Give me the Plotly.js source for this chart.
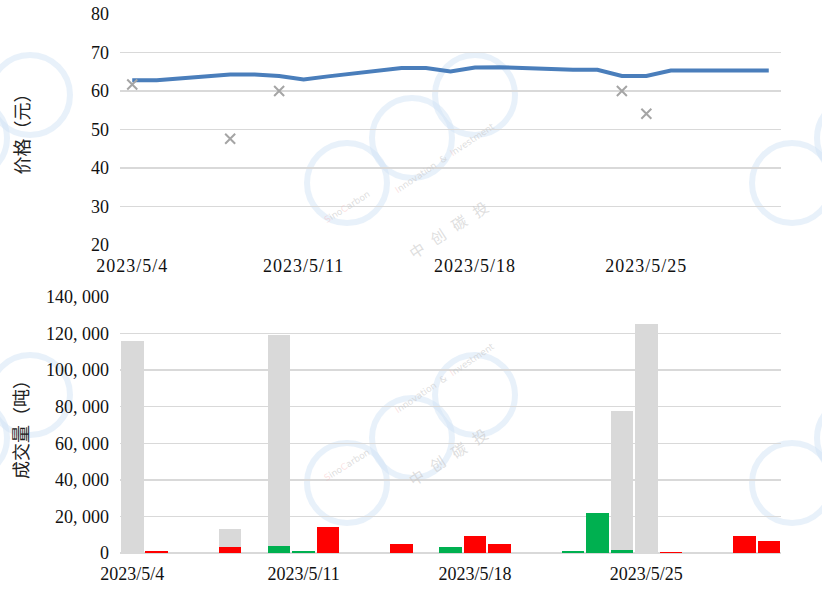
<!DOCTYPE html>
<html>
<head>
<meta charset="utf-8">
<script src="https://cdn.plot.ly/plotly-3.0.1.min.js"></script>
<style>
  html, body { margin: 0; padding: 0; background: #fff; }
  #chart { width: 822px; height: 595px; }
  .xtick text { letter-spacing: 1px; }
</style>
</head>
<body>
<div id="chart"></div>
<script>
// ---------- data ----------
const dates = ['2023-05-04','2023-05-05','2023-05-08','2023-05-09','2023-05-10','2023-05-11','2023-05-12',
               '2023-05-15','2023-05-16','2023-05-17','2023-05-18','2023-05-19','2023-05-22','2023-05-23',
               '2023-05-24','2023-05-25','2023-05-26','2023-05-29','2023-05-30'];
// closing price line (元)
const closePrice = [62.8, 62.8, 64.3, 64.3, 63.9, 63.0, 63.8, 66.0, 66.0, 65.1, 66.1, 66.2, 65.5, 65.5,
                    63.9, 63.9, 65.3, 65.2, 65.3];
// block-trade prices (元)
const blockDates = ['2023-05-04','2023-05-08','2023-05-10','2023-05-24','2023-05-25'];
const blockPrice = [61.7, 47.6, 60.0, 60.0, 54.1];
// volumes (吨)
const volRed   = [0, 1300, 3400, 0, 0, 0, 14400, 5100, 0, 0, 9500, 5100, 0, 0, 0, 0, 700, 9500, 6300];
const volGreen = [0, 0, 0, 0, 4000, 900, 0, 0, 0, 3500, 0, 0, 1300, 22000, 1800, 0, 0, 0, 0];
const volGrey  = [116100, 0, 9900, 0, 115000, 0, 0, 0, 0, 0, 0, 0, 0, 0, 76000, 125400, 0, 0, 0];
// tick labels
const priceTicks = [20, 30, 40, 50, 60, 70, 80];
const volTickVals = [0, 20000, 40000, 60000, 80000, 100000, 120000, 140000];
const volTickText = ['0', '20, 000', '40, 000', '60, 000', '80, 000', '100, 000', '120, 000', '140, 000'];

// ---------- layout helpers ----------
const W = 822, H = 595, ML = 120, MR = 41, MT = 14, MB = 42;
const PW = W - ML - MR, PH = H - MT - MB;
const px = x => (x - ML) / PW;
const py = y => (H - MB - y) / PH;

const tickFont = { family: '"Liberation Serif", "DejaVu Serif", serif', size: 18, color: '#111' };
const titleFont = { family: '"Noto Sans CJK SC", sans-serif', size: 18, color: '#222' };
const gridColor = '#d9d9d9';
const dayMs = 86400000;
const xRange = ['2023-05-03 12:00', '2023-05-30 12:00'];

const traces = [
  { type: 'scatter', mode: 'lines', x: dates, y: closePrice, xaxis: 'x', yaxis: 'y',
    line: { color: '#4a7ebb', width: 4 }, name: '收盘价', showlegend: false },
  { type: 'scatter', mode: 'markers', x: blockDates, y: blockPrice, xaxis: 'x', yaxis: 'y',
    marker: { symbol: 'x-thin', size: 10, color: '#a5a5a5', line: { color: '#a5a5a5', width: 2 } },
    name: '大宗成交价', showlegend: false },
  { type: 'bar', x: dates, y: volRed, xaxis: 'x2', yaxis: 'y2', marker: { color: '#ff0000' }, name: '上涨', showlegend: false },
  { type: 'bar', x: dates, y: volGreen, xaxis: 'x2', yaxis: 'y2', marker: { color: '#00b050' }, name: '下跌', showlegend: false },
  { type: 'bar', x: dates, y: volGrey, xaxis: 'x2', yaxis: 'y2', marker: { color: '#d9d9d9' }, name: '大宗', showlegend: false }
];

// ---------- watermark ----------
const shapes = [];
const annotations = [];
const wmBlue = 'rgba(210,228,245,0.5)';
const groupOffsets = [-445, 0, 445];
const rowOffsets = [0, 300];
rowOffsets.forEach(dy => {
  groupOffsets.forEach(dx => {
    [[347, 183], [412, 138], [475, 95]].forEach(c => {
      const cx = c[0] + dx, cy = c[1] + dy, r = 40;
      shapes.push({ type: 'circle', xref: 'paper', yref: 'paper', layer: 'below',
        x0: px(cx - r), x1: px(cx + r), y0: py(cy + r), y1: py(cy - r),
        line: { color: wmBlue, width: 6 } });
    });
  });
  annotations.push({ xref: 'paper', yref: 'paper', x: px(448), y: py(193 + dy), showarrow: false,
    text: '中   创   碳   投', textangle: -33,
    font: { family: '"Noto Sans CJK SC", sans-serif', size: 15, color: 'rgba(200,200,200,0.6)' } });
  annotations.push({ xref: 'paper', yref: 'paper', x: px(347), y: py(186 + dy), showarrow: false,
    text: '<span style="color:rgba(245,170,170,0.6)">S</span>ino<span style="color:rgba(245,170,170,0.6)">C</span>arbon',
    textangle: -32,
    font: { family: '"DejaVu Sans", sans-serif', size: 9, color: 'rgba(200,200,200,0.6)' } });
  annotations.push({ xref: 'paper', yref: 'paper', x: px(445), y: py(118 + dy), showarrow: false,
    text: '<span style="color:rgba(245,170,170,0.6)">I</span>nnovation  &  <span style="color:rgba(245,170,170,0.6)">I</span>nvestment',
    textangle: -34,
    font: { family: '"DejaVu Sans", sans-serif', size: 9, color: 'rgba(200,200,200,0.6)' } });
});

const layout = {
  width: W, height: H,
  margin: { l: ML, r: MR, t: MT, b: MB },
  paper_bgcolor: '#fff', plot_bgcolor: 'rgba(0,0,0,0)',
  showlegend: false,
  barmode: 'stack', bargap: 0.08,
  xaxis: { type: 'date', range: xRange, domain: [0, 1], anchor: 'y',
    tick0: '2023-05-04', dtick: 7 * dayMs, tickformat: '%Y/%-m/%-d',
    showgrid: false, zeroline: false, showline: false, ticks: '',
    ticklabelstandoff: 8, tickfont: tickFont },
  yaxis: { domain: [py(245), 1], anchor: 'x', range: [20, 80], tickvals: priceTicks,
    showgrid: true, gridcolor: gridColor, gridwidth: 1.5, zeroline: false, showline: false, ticks: '',
    ticklabelstandoff: 10, tickfont: tickFont,
    title: { text: '价格（元）', font: titleFont, standoff: 56 } },
  xaxis2: { type: 'date', range: xRange, domain: [0, 1], anchor: 'y2',
    tick0: '2023-05-04', dtick: 7 * dayMs, tickformat: '%Y/%-m/%-d',
    showgrid: false, zeroline: false, showline: false, ticks: '',
    ticklabelstandoff: 8, tickfont: tickFont },
  yaxis2: { domain: [0, py(297)], anchor: 'x2', range: [0, 140000],
    tickvals: volTickVals, ticktext: volTickText,
    showgrid: true, gridcolor: gridColor, gridwidth: 1.5,
    zeroline: true, zerolinecolor: gridColor, zerolinewidth: 1.5, showline: false, ticks: '',
    ticklabelstandoff: 10, tickfont: tickFont,
    title: { text: '成交量（吨）', font: titleFont, standoff: 12 } },
  shapes: shapes,
  annotations: annotations
};

Plotly.newPlot('chart', traces, layout, { staticPlot: true, displayModeBar: false });
</script>
</body>
</html>
